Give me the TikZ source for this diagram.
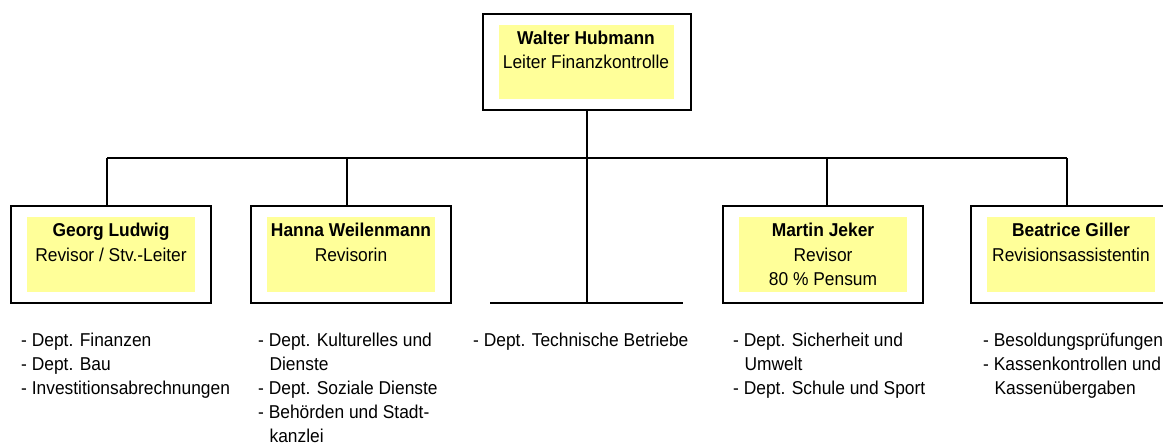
\documentclass[tikz,border=0pt]{standalone}
\usepackage{fontspec}
\setmainfont[FakeStretch=0.935]{Liberation Sans}
\definecolor{notegelb}{RGB}{255,255,153}
\tikzset{
  rahmen/.style={draw, line width=1.4pt, minimum width=200pt, minimum height=97pt, inner sep=0pt},
  feld/.style={fill=notegelb, minimum width=168pt, minimum height=75pt, inner sep=0pt, align=center, font=\fontsize{18.6}{24.5}\selectfont},
  liste/.style={anchor=north west, align=left, inner sep=0pt, font=\fontsize{18.6}{24}\selectfont},
  linie/.style={line width=1.4pt}
}
\newcommand{\einzug}{\hspace*{0.611em}}
\begin{document}
\begin{tikzpicture}[x=1pt, y=-1pt]
\useasboundingbox (0,0) rectangle (1163,444);
% Leiter
\node[rahmen, minimum width=208pt, minimum height=96pt] (chef) at (587,62) {};
\node[feld, minimum width=175pt, minimum height=74pt] (chefF) at (586,62) {\textbf{Walter Hubmann}\\Leiter Finanzkontrolle\\\mbox{}};

% Revisoren
\node[rahmen] (georg) at (111,254.5) {};
\node[feld] (georgF) at (111,254.5) {\textbf{Georg Ludwig}\\Revisor / Stv.-Leiter\\\mbox{}};
\node[rahmen] (hanna) at (351,254.5) {};
\node[feld] (hannaF) at (351,254.5) {\textbf{Hanna Weilenmann}\\Revisorin\\\mbox{}};
\node[rahmen] (martin) at (823,254.5) {};
\node[feld] (martinF) at (823,254.5) {\textbf{Martin Jeker}\\Revisor\\80 \% Pensum};
\node[rahmen] (bea) at (1071,254.5) {};
\node[feld] (beaF) at (1071,254.5) {\textbf{Beatrice Giller}\\Revisionsassistentin\\\mbox{}};

% Linien
\coordinate (busG) at (107,158);
\coordinate (busH) at (347,158);
\coordinate (busM) at (827,158);
\coordinate (busB) at (1067,158);
\coordinate (tbL) at (490,303);
\coordinate (tbR) at (683,303);
\draw[linie] (busG) -- (busB);
\draw[linie] (chef.south) -- (chef.south |- tbL);
\draw[linie] (tbL) -- (tbR);
\draw[linie] (busG) -- (busG |- georg.north);
\draw[linie] (busH) -- (busH |- hanna.north);
\draw[linie] (busM) -- (busM |- martin.north);
\draw[linie] (busB) -- (busB |- bea.north);

% Aufgaben
\node[liste] (listeG) at (21,332.6) {- Dept. Finanzen\\- Dept. Bau\\- Investitionsabrechnungen};
\node[liste] (listeH) at (258,332.6) {- Dept. Kulturelles und\\\einzug Dienste\\- Dept. Soziale Dienste\\- Behörden und Stadt-\\\einzug kanzlei};
\node[liste] (listeT) at (473,332.6) {- Dept. Technische Betriebe};
\node[liste] (listeM) at (733,332.6) {- Dept. Sicherheit und\\\einzug Umwelt\\- Dept. Schule und Sport};
\node[liste] (listeB) at (983,332.6) {- Besoldungsprüfungen\\- Kassenkontrollen und\\\einzug Kassenübergaben};
\end{tikzpicture}
\end{document}
